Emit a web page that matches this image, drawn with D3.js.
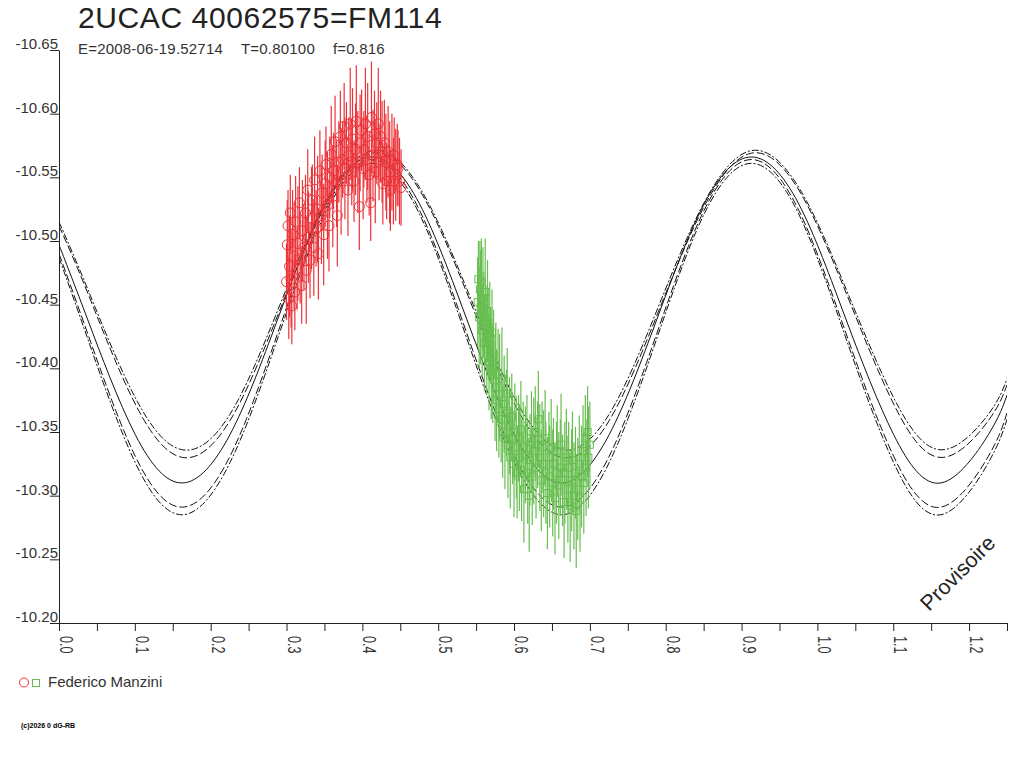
<!DOCTYPE html>
<html>
<head>
<meta charset="utf-8">
<script src="https://cdn.jsdelivr.net/npm/d3@7/dist/d3.min.js"></script>
<style>
  html, body { margin: 0; padding: 0; background: #fff; }
  svg { display: block; }
  text { font-family: "Liberation Sans", Arial, sans-serif; }
</style>
</head>
<body>
<svg id="chart" width="1024" height="768"></svg>
<script>
// ---------------- data ----------------
const titleText = "2UCAC 40062575=FM114";
const subtitleParts = ["E=2008-06-19.52714", "T=0.80100", "f=0.816"];
const observer = "Federico Manzini";
const copyright = "(c)2026 0 dG-RB";
const watermark = "Provisoire";

const yTicks = [-10.65, -10.60, -10.55, -10.50, -10.45, -10.40, -10.35, -10.30, -10.25, -10.20];
const yTickLabels = ["-10.65", "-10.60", "-10.55", "-10.50", "-10.45", "-10.40", "-10.35", "-10.30", "-10.25", "-10.20"];
const xMinorTicks = [0, 0.05, 0.1, 0.15, 0.2, 0.25, 0.3, 0.35, 0.4, 0.45, 0.5, 0.55, 0.6, 0.65, 0.7, 0.75, 0.8, 0.85, 0.9, 0.95, 1.0, 1.05, 1.1, 1.15, 1.2, 1.25];
const xLabelTicks = [0, 0.1, 0.2, 0.3, 0.4, 0.5, 0.6, 0.7, 0.8, 0.9, 1.0, 1.1, 1.2];
const xTickLabels = ["0.0", "0.1", "0.2", "0.3", "0.4", "0.5", "0.6", "0.7", "0.8", "0.9", "1.0", "1.1", "1.2"];

// fitted light curve and its envelopes, sampled (phase -> magnitude)
const curvePhases = [0, 0.038, 0.1005, 0.163, 0.2255, 0.288, 0.3505, 0.413, 0.4755, 0.538, 0.6005, 0.663, 0.7255, 0.788, 0.8505, 0.913, 0.9755, 1.038, 1.1005, 1.163, 1.2255, 1.25];
const curveUpperOuter = [-10.515, -10.462, -10.377, -10.336, -10.364, -10.445, -10.530, -10.571, -10.542, -10.462, -10.377, -10.336, -10.364, -10.445, -10.530, -10.571, -10.542, -10.462, -10.377, -10.336, -10.364, -10.392];
const curveUpperInner = [-10.512, -10.459, -10.372, -10.330, -10.359, -10.441, -10.527, -10.569, -10.540, -10.459, -10.372, -10.330, -10.359, -10.441, -10.527, -10.569, -10.540, -10.459, -10.372, -10.330, -10.359, -10.387];
const curveMain = [-10.497, -10.438, -10.348, -10.310, -10.348, -10.438, -10.529, -10.566, -10.529, -10.438, -10.348, -10.310, -10.348, -10.438, -10.529, -10.566, -10.529, -10.438, -10.348, -10.310, -10.348, -10.379];
const curveLowerInner = [-10.490, -10.427, -10.331, -10.291, -10.331, -10.427, -10.524, -10.564, -10.524, -10.427, -10.331, -10.291, -10.331, -10.427, -10.524, -10.564, -10.524, -10.427, -10.331, -10.291, -10.331, -10.365];
const curveLowerOuter = [-10.487, -10.423, -10.326, -10.285, -10.326, -10.423, -10.521, -10.561, -10.521, -10.423, -10.326, -10.285, -10.326, -10.423, -10.521, -10.561, -10.521, -10.423, -10.326, -10.285, -10.326, -10.360];

// observations, series 1 (red circles)
const redPhase = [0.300,0.301,0.302,0.303,0.304,0.305,0.306,0.307,0.308,0.310,0.311,0.312,0.314,0.315,0.317,0.318,0.320,0.321,0.323,0.325,0.326,0.328,0.329,0.331,0.333,0.334,0.336,0.337,0.339,0.341,0.342,0.344,0.346,0.347,0.349,0.351,0.352,0.354,0.356,0.357,0.359,0.361,0.362,0.364,0.366,0.367,0.369,0.371,0.372,0.374,0.376,0.377,0.379,0.381,0.382,0.384,0.386,0.387,0.389,0.391,0.392,0.394,0.396,0.397,0.399,0.401,0.402,0.404,0.406,0.407,0.409,0.411,0.412,0.414,0.416,0.417,0.419,0.421,0.422,0.424,0.426,0.427,0.429,0.431,0.432,0.434,0.436,0.437,0.439,0.441,0.442,0.444,0.446,0.447,0.449,0.451];
const redMag = [-10.468,-10.497,-10.512,-10.455,-10.480,-10.522,-10.470,-10.449,-10.505,-10.488,-10.460,-10.515,-10.478,-10.498,-10.530,-10.486,-10.465,-10.508,-10.495,-10.522,-10.477,-10.540,-10.503,-10.485,-10.518,-10.532,-10.495,-10.548,-10.510,-10.525,-10.490,-10.555,-10.520,-10.538,-10.505,-10.545,-10.560,-10.528,-10.512,-10.550,-10.568,-10.535,-10.555,-10.578,-10.545,-10.520,-10.562,
  -10.582,-10.547,-10.564,-10.590,-10.557,-10.577,-10.540,-10.567,-10.592,-10.562,-10.580,-10.547,-10.572,-10.594,-10.562,-10.527,-10.577,-10.587,-10.557,-10.572,-10.592,-10.564,-10.582,-10.552,-10.530,-10.597,-10.567,-10.584,-10.554,-10.577,-10.592,-10.562,-10.582,-10.570,-10.545,-10.577,-10.562,-10.547,-10.570,-10.554,-10.540,-10.562,-10.547,-10.567,-10.552,-10.560,-10.557,-10.547,-10.542];
const redErr = [0.030,0.035,0.028,0.032,0.040,0.030,0.038,0.030,0.035,0.042,0.030,0.036,0.032,0.045,0.028,0.035,0.030,0.040,0.034,0.030,0.042,0.032,0.036,0.030,0.040,0.028,0.038,0.034,0.030,0.042,0.036,0.032,0.038,0.030,0.040,0.034,0.030,0.042,0.036,0.032,0.038,0.040,0.030,0.036,0.034,0.040,0.032,0.036,0.042,0.030,0.034,0.040,0.032,0.036,0.030,0.044,0.034,0.040,0.032,0.036,0.044,0.040,0.034,0.038,0.032,0.040,0.030,0.044,0.034,0.042,0.032,0.030,0.044,0.036,0.034,0.040,0.032,0.044,0.030,0.036,0.040,0.032,0.034,0.038,0.030,0.036,0.040,0.032,0.038,0.034,0.030,0.036,0.032,0.030,0.034,0.030];

// observations, series 2 (green squares)
const greenPhase = [0.552,0.553,0.554,0.555,0.556,0.557,0.558,0.559,0.560,0.561,0.562,0.563,0.564,0.565,0.566,0.567,0.568,0.569,0.570,0.571,0.572,0.573,0.575,0.576,0.577,0.579,0.580,0.581,0.583,0.584,0.585,0.587,0.588,0.590,0.591,0.592,0.594,0.595,0.597,0.598,0.600,0.601,0.603,0.604,0.606,0.607,0.609,0.610,0.612,0.613,0.615,0.617,0.618,0.620,0.621,0.623,0.624,0.626,0.628,0.629,0.631,0.632,0.634,0.636,0.637,0.639,0.641,0.642,0.644,0.646,0.647,0.649,0.651,0.652,0.654,0.656,0.657,0.659,0.661,0.662,0.664,0.666,0.667,0.669,0.671,0.672,0.674,0.676,0.677,0.679,0.681,0.682,0.684,0.686,0.687,0.689,0.691,0.692,0.694,0.695,0.697,0.698,0.700];
const greenMag = [-10.452,-10.470,-10.440,-10.462,-10.448,-10.468,-10.430,-10.455,-10.442,-10.420,-10.460,-10.435,-10.415,-10.445,-10.425,-10.405,-10.432,-10.418,-10.400,-10.428,-10.395,-10.410,-10.385,-10.402,-10.375,-10.395,-10.368,-10.385,-10.360,-10.392,-10.350,-10.372,-10.345,-10.365,-10.380,-10.340,-10.355,-10.330,-10.362,-10.345,-10.325,-10.350,-10.338,-10.318,-10.345,-10.330,-10.352,-10.320,-10.338,-10.305,-10.332,-10.345,-10.318,-10.300,-10.328,-10.342,-10.315,-10.335,-10.350,-10.322,-10.340,-10.360,-10.330,-10.312,-10.338,-10.325,-10.345,-10.318,-10.302,-10.330,-10.315,-10.338,-10.310,-10.325,-10.298,-10.318,-10.335,-10.308,-10.322,-10.340,-10.312,-10.295,-10.318,-10.330,-10.305,-10.322,-10.292,-10.312,-10.328,-10.300,-10.318,-10.288,-10.305,-10.325,-10.298,-10.315,-10.335,-10.310,-10.345,-10.322,-10.350,-10.330,-10.340];
const greenErr = [0.035,0.030,0.040,0.038,0.045,0.034,0.036,0.040,0.034,0.038,0.042,0.030,0.036,0.040,0.034,0.038,0.036,0.030,0.040,0.034,0.038,0.036,0.042,0.034,0.040,0.036,0.038,0.042,0.034,0.040,0.036,0.038,0.040,0.034,0.036,0.042,0.038,0.040,0.034,0.036,0.042,0.038,0.040,0.036,0.034,0.042,0.038,0.040,0.036,0.042,0.038,0.034,0.040,0.044,0.036,0.040,0.038,0.042,0.036,0.040,0.034,0.038,0.042,0.040,0.036,0.042,0.038,0.040,0.044,0.036,0.040,0.038,0.042,0.036,0.044,0.040,0.036,0.042,0.038,0.040,0.036,0.044,0.040,0.038,0.042,0.036,0.044,0.040,0.038,0.042,0.036,0.045,0.040,0.038,0.042,0.040,0.036,0.040,0.034,0.038,0.036,0.040,0.034];

// ---------------- drawing ----------------
const RED = "#ec3238", GREEN = "#67be50", INK = "#222";
const svg = d3.select("#chart");
svg.append("rect").attr("width", 1024).attr("height", 768).attr("fill", "#fff");

const x = d3.scaleLinear().domain([0, 1.25]).range([59, 1007]);
const y = d3.scaleLinear().domain([-10.65, -10.20]).range([50, 623]);

svg.append("defs").append("clipPath").attr("id", "plotclip")
  .append("rect").attr("x", 59).attr("y", 0).attr("width", 948).attr("height", 623);

// curves
const curves = [
  { v: curveUpperOuter, dash: "7,2,2,2" },
  { v: curveUpperInner, dash: "8,3" },
  { v: curveMain, dash: null },
  { v: curveLowerInner, dash: "8,3" },
  { v: curveLowerOuter, dash: "7,2,2,2" }
];
const line = d3.line().x(d => x(d[0])).y(d => y(d[1])).curve(d3.curveNatural);
const cg = svg.append("g").attr("clip-path", "url(#plotclip)");
curves.forEach(c => {
  cg.append("path")
    .datum(curvePhases.map((p, i) => [p, c.v[i]]))
    .attr("d", line)
    .attr("fill", "none")
    .attr("stroke", "#111")
    .attr("stroke-width", 1)
    .attr("stroke-dasharray", c.dash);
});

const red = redPhase.map((p, i) => ({ p, m: redMag[i], e: redErr[i] }));
const green = greenPhase.map((p, i) => ({ p, m: greenMag[i], e: greenErr[i] }));

const rg = svg.append("g");
rg.selectAll("circle").data(red).join("circle")
  .attr("cx", d => x(d.p)).attr("cy", d => y(d.m)).attr("r", 5)
  .attr("fill", "none").attr("stroke", RED).attr("stroke-width", 1);
rg.selectAll("line").data(red).join("line")
  .attr("x1", d => x(d.p)).attr("x2", d => x(d.p))
  .attr("y1", d => y(d.m - d.e)).attr("y2", d => y(d.m + d.e))
  .attr("stroke", RED).attr("stroke-width", 1.2);

const gg = svg.append("g");
gg.selectAll("rect").data(green).join("rect")
  .attr("x", d => x(d.p) - 3.5).attr("y", d => y(d.m) - 3.5)
  .attr("width", 7).attr("height", 7)
  .attr("fill", "none").attr("stroke", GREEN).attr("stroke-width", 1);
gg.selectAll("line").data(green).join("line")
  .attr("x1", d => x(d.p)).attr("x2", d => x(d.p))
  .attr("y1", d => y(d.m - d.e)).attr("y2", d => y(d.m + d.e))
  .attr("stroke", GREEN).attr("stroke-width", 1.2);

// y axis
const yAxis = d3.axisLeft(y).tickValues(yTicks).tickSize(9).tickSizeOuter(0)
  .tickFormat((d, i) => yTickLabels[i]);
const ya = svg.append("g").attr("transform", "translate(59,0)").call(yAxis);
ya.select(".domain").attr("stroke", INK);
ya.selectAll(".tick line").attr("stroke", INK);
ya.selectAll(".tick text")
  .attr("x", -1).attr("dy", -1.5)
  .attr("fill", "#333").attr("font-size", 15)
  .style("font-family", '"Liberation Sans", Arial, sans-serif');

// x axis
const xAxis = d3.axisBottom(x).tickValues(xMinorTicks).tickSize(8).tickSizeOuter(0).tickFormat("");
const xa = svg.append("g").attr("transform", "translate(0,623)").call(xAxis);
xa.select(".domain").attr("stroke", INK);
xa.selectAll(".tick line").attr("stroke", INK);

svg.append("g").selectAll("text").data(xLabelTicks).join("text")
  .attr("transform", d => `translate(${x(d) + 1},636) rotate(90) scale(0.9,1.25)`)
  .attr("font-size", 14).attr("fill", "#333")
  .text((d, i) => xTickLabels[i]);

// title & subtitle
svg.append("text").attr("x", 78).attr("y", 28)
  .attr("font-size", 30).attr("letter-spacing", 0.6).attr("fill", INK).text(titleText);
const subX = [78, 241, 333];
svg.append("g").selectAll("text").data(subtitleParts).join("text")
  .attr("x", (d, i) => subX[i]).attr("y", 54)
  .attr("font-size", 15).attr("letter-spacing", 0.2).attr("fill", "#333").text(d => d);

// legend
svg.append("circle").attr("cx", 24).attr("cy", 682.5).attr("r", 4.5)
  .attr("fill", "none").attr("stroke", RED);
svg.append("rect").attr("x", 32.5).attr("y", 679.5).attr("width", 7).attr("height", 7)
  .attr("fill", "none").attr("stroke", GREEN);
svg.append("text").attr("x", 48).attr("y", 687)
  .attr("font-size", 15).attr("fill", "#333").text(observer);

// copyright
svg.append("text").attr("x", 21).attr("y", 728)
  .attr("font-size", 7).attr("font-weight", "bold").attr("fill", "#000").text(copyright);

// watermark
svg.append("text").attr("transform", "translate(929,612) rotate(-45)")
  .attr("font-size", 21.5).attr("fill", INK).text(watermark);
</script>
</body>
</html>
